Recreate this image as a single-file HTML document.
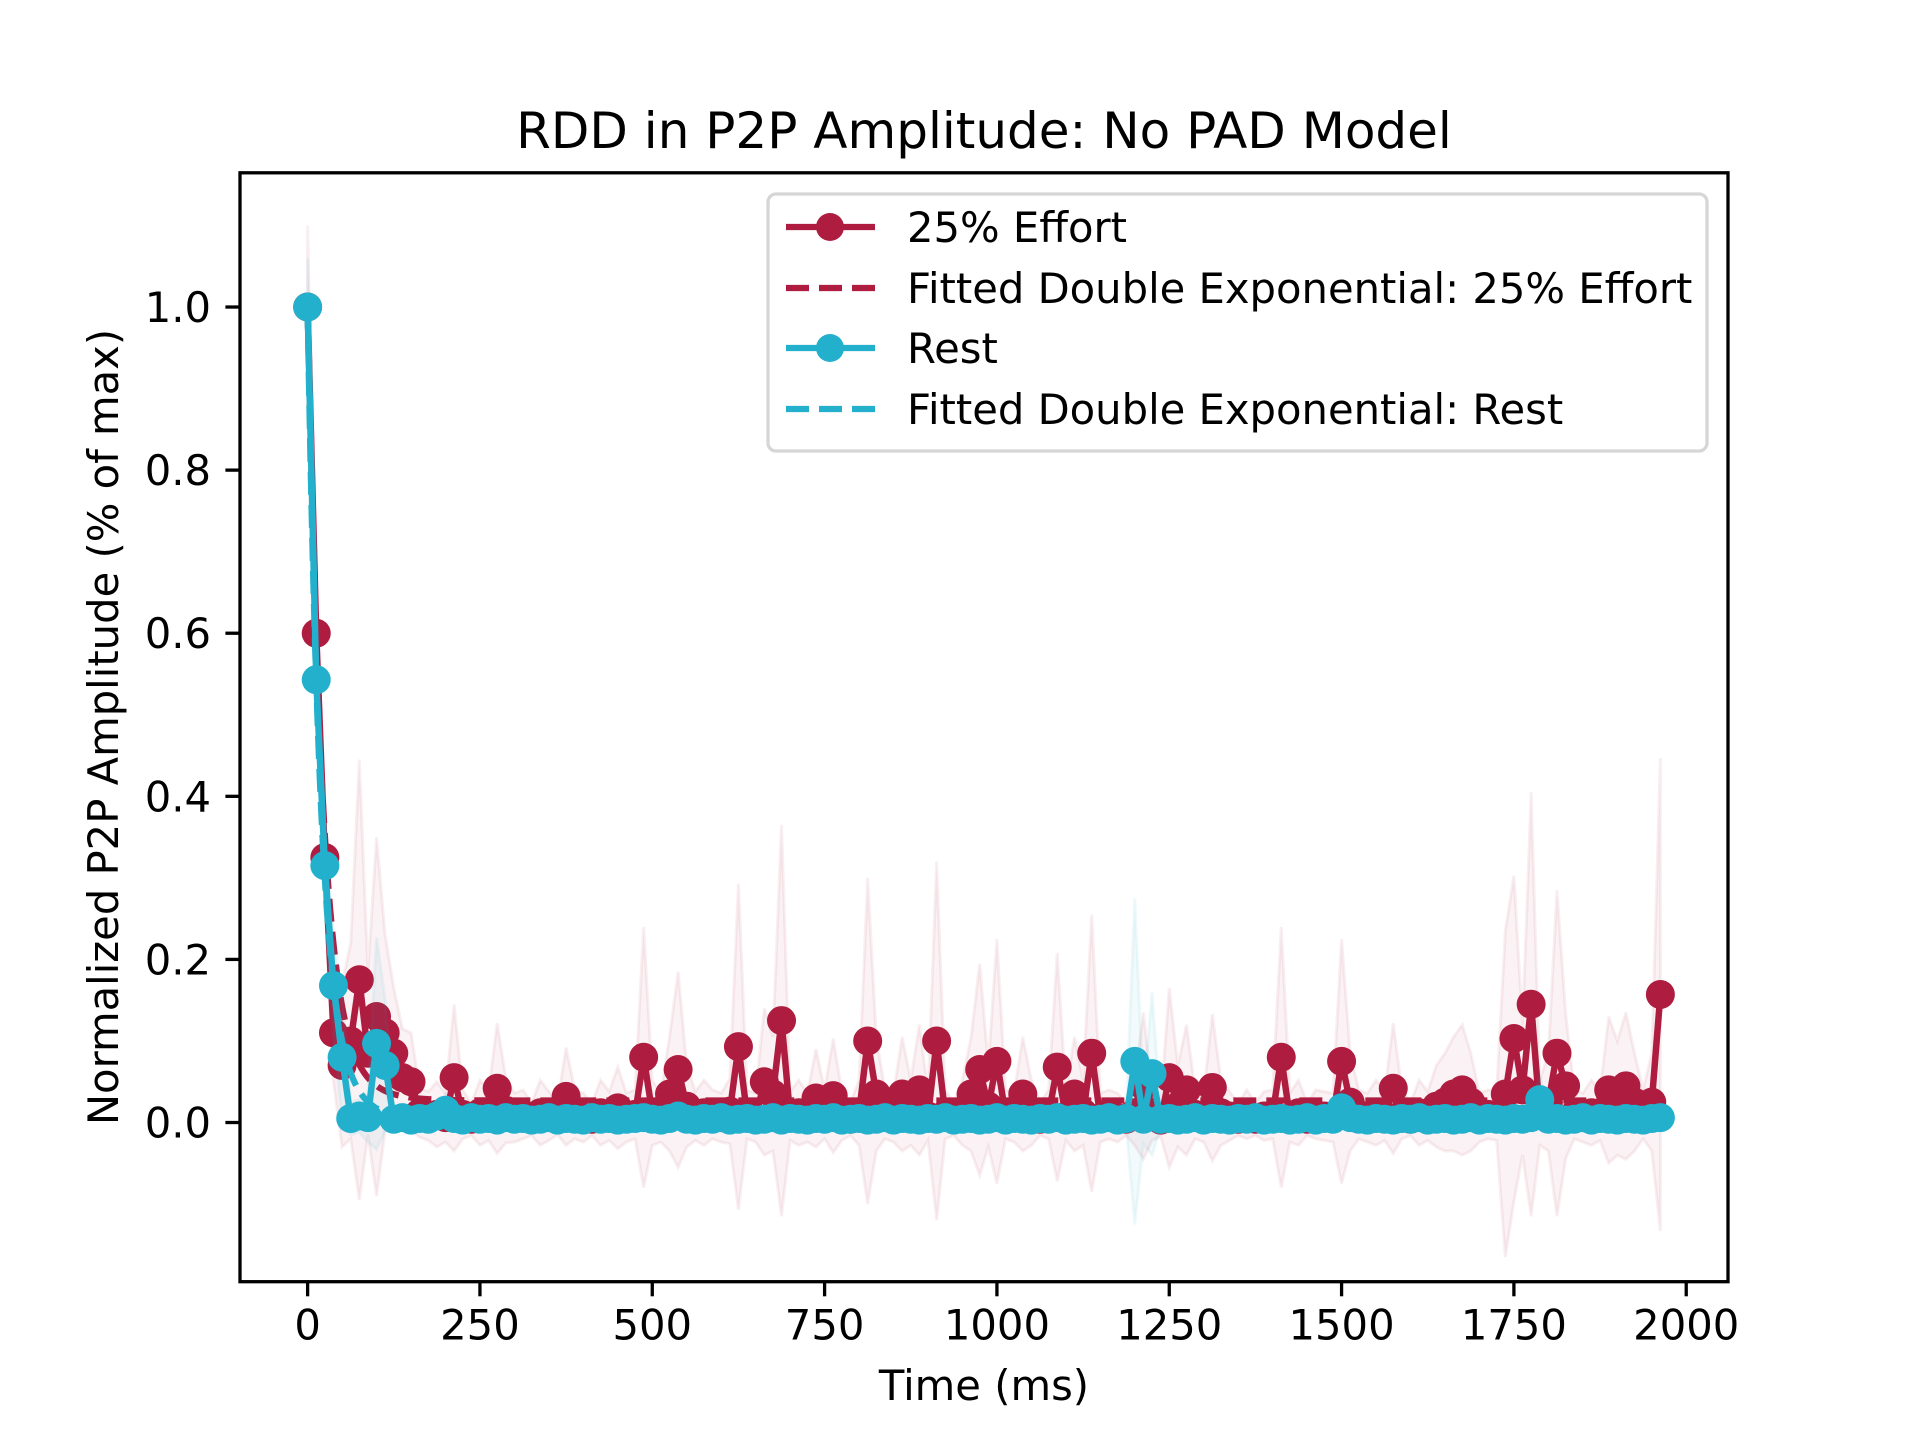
<!DOCTYPE html>
<html><head><meta charset="utf-8"><style>
html,body{margin:0;padding:0;background:#fff}
svg{display:block}
text{font-family:"DejaVu Sans","Liberation Sans",sans-serif;fill:#000}
</style></head><body>
<svg id="chart" width="1920" height="1440" viewBox="0 0 1920 1440" xmlns="http://www.w3.org/2000/svg">
<rect x="0" y="0" width="1920" height="1440" fill="#fff"/>
<g id="plot"></g>
<g id="axes"></g>
<text x="984" y="148" font-size="50" text-anchor="middle">RDD in P2P Amplitude: No PAD Model</text>
<text x="984" y="1400" font-size="41.7" text-anchor="middle">Time (ms)</text>
<text x="0" y="0" font-size="41.7" text-anchor="middle" transform="translate(118,727) rotate(-90)">Normalized P2P Amplitude (% of max)</text>
<g id="legend">
<rect x="768" y="194" width="939" height="257" rx="8" fill="#fff" fill-opacity="0.8" stroke="#d6d6d6" stroke-width="3.3"/>
<g><line x1="786" y1="227" x2="875" y2="227" stroke="#AE1D3F" stroke-width="6.25"/><circle cx="830" cy="227" r="14" fill="#AE1D3F"/><text x="907" y="242" font-size="41.7">25% Effort</text></g>
<g><line x1="786" y1="288" x2="875" y2="288" stroke="#AE1D3F" stroke-width="6.25" stroke-dasharray="23,10"/><text x="907" y="303" font-size="41.7">Fitted Double Exponential: 25% Effort</text></g>
<g><line x1="786" y1="348" x2="875" y2="348" stroke="#22B0CD" stroke-width="6.25"/><circle cx="830" cy="348" r="14" fill="#22B0CD"/><text x="907" y="363" font-size="41.7">Rest</text></g>
<g><line x1="786" y1="409" x2="875" y2="409" stroke="#22B0CD" stroke-width="6.25" stroke-dasharray="23,10"/><text x="907" y="424" font-size="41.7">Fitted Double Exponential: Rest</text></g>
</g>
</svg>
<script>
const sampleStepMs = 12.5;
const effortMean = [1.0,0.60,0.325,0.11,0.07,0.10,0.175,0.085,0.13,0.11,
0.085,0.055,0.05,0.012,0.008,0.01,0.006,0.055,0.01,0.004,
0.012,0.008,0.042,0.015,0.006,0.01,0.004,0.012,0.008,0.005,
0.032,0.01,0.006,0.004,0.012,0.008,0.018,0.006,0.01,0.08,
0.012,0.006,0.035,0.065,0.02,0.008,0.012,0.01,0.006,0.014,
0.093,0.01,0.006,0.05,0.035,0.125,0.008,0.012,0.006,0.03,
0.01,0.033,0.008,0.004,0.012,0.1,0.035,0.01,0.006,0.035,
0.012,0.04,0.008,0.1,0.01,0.004,0.012,0.035,0.065,0.02,
0.075,0.01,0.006,0.035,0.012,0.004,0.01,0.068,0.008,0.035,
0.012,0.085,0.006,0.01,0.006,0.004,0.012,0.045,0.008,0.003,
0.055,0.02,0.04,0.01,0.006,0.043,0.012,0.008,0.004,0.01,
0.004,0.008,0.01,0.08,0.006,0.012,0.004,0.01,0.008,0.006,
0.075,0.025,0.01,0.006,0.012,0.008,0.042,0.01,0.004,0.012,
0.008,0.02,0.025,0.035,0.04,0.025,0.006,0.01,0.008,0.035,
0.103,0.04,0.145,0.012,0.025,0.085,0.045,0.01,0.006,0.012,
0.008,0.04,0.03,0.045,0.025,0.01,0.025,0.157];
const effortSd = [0.10,0.06,0.05,0.06,0.10,0.12,0.27,0.10,0.22,0.12,
0.08,0.06,0.06,0.03,0.03,0.04,0.03,0.09,0.03,0.02,
0.04,0.03,0.08,0.04,0.03,0.03,0.02,0.04,0.03,0.02,
0.06,0.03,0.03,0.02,0.04,0.03,0.05,0.03,0.03,0.16,
0.04,0.03,0.07,0.12,0.05,0.03,0.04,0.03,0.03,0.04,
0.20,0.03,0.03,0.09,0.07,0.24,0.03,0.04,0.03,0.06,
0.03,0.07,0.03,0.02,0.04,0.20,0.07,0.03,0.03,0.07,
0.04,0.08,0.03,0.22,0.03,0.02,0.04,0.07,0.13,0.05,
0.15,0.03,0.03,0.07,0.04,0.02,0.03,0.14,0.03,0.07,
0.04,0.17,0.03,0.03,0.03,0.02,0.04,0.09,0.03,0.02,
0.11,0.05,0.08,0.03,0.03,0.09,0.04,0.03,0.02,0.03,
0.02,0.03,0.03,0.16,0.03,0.04,0.02,0.03,0.03,0.03,
0.15,0.06,0.03,0.03,0.04,0.03,0.08,0.03,0.02,0.04,
0.03,0.05,0.06,0.07,0.08,0.06,0.03,0.03,0.03,0.20,
0.20,0.08,0.26,0.04,0.06,0.20,0.09,0.03,0.03,0.04,
0.03,0.09,0.07,0.09,0.06,0.03,0.06,0.29];
const restMean = [1.0,0.543,0.315,0.168,0.08,0.005,0.008,0.006,0.097,0.07,
0.004,0.006,0.003,0.005,0.004,0.008,0.015,0.005,0.003,0.006,
0.004,0.005,0.003,0.006,0.004,0.005,0.003,0.004,0.006,0.003,
0.005,0.004,0.003,0.006,0.004,0.005,0.003,0.004,0.005,0.006,
0.004,0.003,0.005,0.008,0.004,0.003,0.005,0.004,0.006,0.003,
0.004,0.005,0.003,0.004,0.006,0.003,0.005,0.004,0.003,0.005,
0.004,0.006,0.003,0.004,0.005,0.003,0.004,0.006,0.003,0.005,
0.004,0.003,0.005,0.004,0.006,0.003,0.004,0.005,0.003,0.004,
0.006,0.003,0.005,0.004,0.003,0.005,0.004,0.006,0.003,0.004,
0.005,0.003,0.004,0.006,0.003,0.005,0.075,0.004,0.06,0.004,
0.005,0.003,0.004,0.006,0.003,0.005,0.004,0.003,0.005,0.004,
0.006,0.003,0.004,0.005,0.003,0.004,0.006,0.003,0.005,0.004,
0.018,0.006,0.004,0.003,0.005,0.004,0.003,0.005,0.004,0.006,
0.003,0.004,0.005,0.003,0.004,0.006,0.003,0.005,0.004,0.003,
0.005,0.004,0.006,0.028,0.004,0.005,0.003,0.004,0.006,0.003,
0.005,0.004,0.003,0.005,0.004,0.003,0.005,0.006];
const restSd = [0.06,0.05,0.05,0.06,0.08,0.02,0.02,0.03,0.13,0.08,
0.01,0.01,0.01,0.01,0.01,0.01,0.02,0.01,0.01,0.01,
0.01,0.01,0.01,0.01,0.01,0.01,0.01,0.01,0.01,0.01,
0.01,0.01,0.01,0.01,0.01,0.01,0.01,0.01,0.01,0.01,
0.01,0.01,0.01,0.01,0.01,0.01,0.01,0.01,0.01,0.01,
0.01,0.01,0.01,0.01,0.01,0.01,0.01,0.01,0.01,0.01,
0.01,0.01,0.01,0.01,0.01,0.01,0.01,0.01,0.01,0.01,
0.01,0.01,0.01,0.01,0.01,0.01,0.01,0.01,0.01,0.01,
0.01,0.01,0.01,0.01,0.01,0.01,0.01,0.01,0.01,0.01,
0.01,0.01,0.01,0.01,0.01,0.01,0.20,0.03,0.10,0.01,
0.01,0.01,0.01,0.01,0.01,0.01,0.01,0.01,0.01,0.01,
0.01,0.01,0.01,0.01,0.01,0.01,0.01,0.01,0.01,0.01,
0.02,0.01,0.01,0.01,0.01,0.01,0.01,0.01,0.01,0.01,
0.01,0.01,0.01,0.01,0.01,0.01,0.01,0.01,0.01,0.01,
0.01,0.01,0.01,0.03,0.01,0.01,0.01,0.01,0.01,0.01,
0.01,0.01,0.01,0.01,0.01,0.01,0.01,0.01];
const effortFitParams = [0.75, 20, 0.225, 35, 0.027];
const restFitParams = [0.80, 18, 0.197, 35, 0.003];
const xTicks = [0,250,500,750,1000,1250,1500,1750,2000];
const xTickLabels = ["0","250","500","750","1000","1250","1500","1750","2000"];
const yTicks = [0,0.2,0.4,0.6,0.8,1.0];
const yTickLabels = ["0.0","0.2","0.4","0.6","0.8","1.0"];

const L=240,R=1728,T=172.8,B=1281.7;
const X0=-98.1,X1=2060.6,Y0=-0.1952,Y1=1.1646;
const sx=v=>L+(v-X0)/(X1-X0)*(R-L);
const sy=v=>B-(v-Y0)/(Y1-Y0)*(B-T);
const NS="http://www.w3.org/2000/svg";
const plot=document.getElementById('plot'), axes=document.getElementById('axes');
function mk(tag,attrs,parent){const e=document.createElementNS(NS,tag);for(const k in attrs)e.setAttribute(k,attrs[k]);parent.appendChild(e);return e;}
const clip=mk('clipPath',{id:'clipA'},plot);mk('rect',{x:L,y:T,width:R-L,height:B-T},clip);
const g=mk('g',{'clip-path':'url(#clipA)'},plot);
const tm=i=>i*sampleStepMs;
function band(mean,sd,color,name){
  let up=mean.map((m,i)=>sx(tm(i))+','+sy(m+sd[i]));
  let dn=mean.map((m,i)=>sx(tm(i))+','+sy(m-sd[i])).reverse();
  const p=mk('polygon',{points:up.concat(dn).join(' '),fill:color,'fill-opacity':0.06,stroke:color,'stroke-opacity':0.07,'stroke-width':3},g);
  
  
}
function series(mean,color,name){
  const s=mk('g',{},g);
  
  
  mk('polyline',{points:mean.map((m,i)=>sx(tm(i))+','+sy(m)).join(' '),fill:'none',stroke:color,'stroke-width':6.5,'stroke-linejoin':'round'},s);
  mean.forEach((m,i)=>{
    const c=mk('circle',{cx:sx(tm(i)),cy:sy(m),r:14.5,fill:color},s);
    
    
  });
}
function fit(p,color,name){
  const pts=[];const tEnd=tm(effortMean.length-1);
  for(let t=0;t<=tEnd;t+=2){const v=p[0]*Math.exp(-t/p[1])+p[2]*Math.exp(-t/p[3])+p[4];pts.push(sx(t)+','+sy(v));}
  const l=mk('polyline',{points:pts.join(' '),fill:'none',stroke:color,'stroke-width':6.25,'stroke-dasharray':'23,10'},g);
  
  
}
const EC='#AE1D3F',RC='#22B0CD';
band(effortMean,effortSd,EC,'effort-sd-band');
series(effortMean,EC,'effort-series');
fit(effortFitParams,EC,'effort-fit-line');
band(restMean,restSd,RC,'rest-sd-band');
series(restMean,RC,'rest-series');
fit(restFitParams,RC,'rest-fit-line');
const fr=mk('rect',{x:L,y:T,width:R-L,height:B-T,fill:'none',stroke:'#000','stroke-width':3.3},axes);


xTicks.forEach((v,i)=>{
  const t=mk('line',{x1:sx(v),x2:sx(v),y1:B,y2:B+14.6,stroke:'#000','stroke-width':3.3},axes);
  
  
  const tx=mk('text',{x:sx(v),y:B+58,'font-size':41.7,'text-anchor':'middle'},axes);
  tx.textContent=xTickLabels[i];
  
  
});
yTicks.forEach((v,i)=>{
  const t=mk('line',{x1:L-14.6,x2:L,y1:sy(v),y2:sy(v),stroke:'#000','stroke-width':3.3},axes);
  
  
  const tx=mk('text',{x:L-29,y:sy(v)+15,'font-size':41.7,'text-anchor':'end'},axes);
  tx.textContent=yTickLabels[i];
  
  
});
</script>
</body></html>
